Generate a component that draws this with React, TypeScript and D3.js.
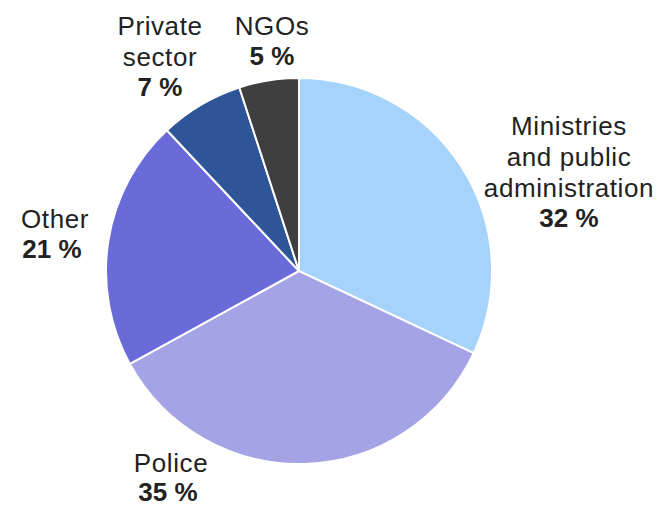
import { useEffect, useRef } from 'react'
import * as d3 from 'd3'

const categories = ['Ministries and public administration', 'Police', 'Other', 'Private sector', 'NGOs']
const shares = [32, 35, 21, 7, 5]
const colors = ['#a6d3fb', '#a3a3e6', '#6a6ad8', '#2e5597', '#3f3f3f']

// label lines, placed next to each slice
const labelLines = [
  ['Ministries', 'and public', 'administration'],
  ['Police'],
  ['Other'],
  ['Private', 'sector'],
  ['NGOs']
]

const width = 660
const height = 507

export default function App() {
  const svgRef = useRef<SVGSVGElement>(null)

  useEffect(() => {
    if (!svgRef.current) return
    const svg = d3.select(svgRef.current)
    svg.selectAll('*').remove()

    const cx = 299
    const cy = 271
    const radius = 193

    const pie = d3
      .pie<number>()
      .sort(null)
      .value(d => d)
    const arcs = pie(shares)
    const arc = d3.arc<d3.PieArcDatum<number>>().innerRadius(0).outerRadius(radius)

    const g = svg.append('g').attr('transform', `translate(${cx},${cy})`)

    g.selectAll('path')
      .data(arcs)
      .enter()
      .append('path')
      .attr('d', arc)
      .attr('fill', (_, i) => colors[i])
      .attr('stroke', '#ffffff')
      .attr('stroke-width', 2)

    // label anchor (center x, first baseline)
    const labelPos: [number, number][] = [
      [569, 135],
      [171, 472],
      [55, 228],
      [160, 35],
      [272, 35]
    ]

    const lineH = 31
    categories.forEach((_, i) => {
      const [lx, ly] = labelPos[i]
      const t = svg
        .append('text')
        .attr('text-anchor', 'middle')
        .style('font-family', 'Liberation Sans, Arial, sans-serif')
        .style('font-size', '26px')
        .style('letter-spacing', '0.6px')
        .style('fill', '#222222')
      labelLines[i].forEach((line, j) => {
        t.append('tspan')
          .attr('x', lx)
          .attr('y', ly + j * lineH)
          .text(line)
      })
      t.append('tspan')
        .attr('x', lx - (i === 1 || i === 2 ? 3 : 0))
        .attr('y', ly + labelLines[i].length * lineH - (i === 1 ? 2 : 1))
        .style('font-weight', 'bold')
        .style('letter-spacing', '0px')
        .text(`${shares[i]} %`)
    })
  }, [])

  return (
    <svg
      ref={svgRef}
      width={width}
      height={height}
      style={{ position: 'absolute', left: 0, top: 0, background: '#ffffff' }}
    ></svg>
  )
}
